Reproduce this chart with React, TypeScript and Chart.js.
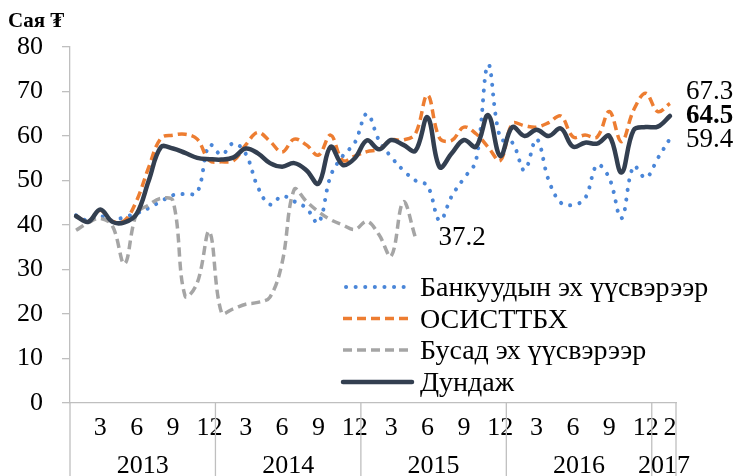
import React, { useEffect, useRef } from 'react';
import { Chart, registerables } from 'chart.js';

Chart.register(...registerables);

// ---------------- data ----------------
const YEARS = ['2013', '2014', '2015', '2016', '2017'];
const MONTHS_PER_YEAR = [12, 12, 12, 12, 2];
const MONTH_TICKS = [3, 6, 9, 12];

const SERIES_NAMES = ['Банкуудын эх үүсвэрээр', 'ОСИСТТБХ', 'Бусад эх үүсвэрээр', 'Дундаж'];
const Y_TITLE = 'Сая ₮';

const BANKS = [
  42.2, 41, 42, 41, 41.8, 42.6, 43.8, 45.3, 46.7, 47, 47.3, 58,
  55.8, 58.4, 56, 48.5, 44.6, 46.5, 45.3, 43.8, 40.5, 51, 55.5, 58.5,
  65, 59, 55.3, 52.3, 50, 48.8, 41, 46.5, 50.5, 54.5, 76, 59.5,
  58.5, 52.3, 59.3, 50, 45, 44.5, 46, 53.5, 50.5, 41.5, 53.2, 50.6,
  55, 59.4,
];
const OSISTTBKH = [
  42, 40.8, 43.3, 40.8, 41, 45.5, 53, 59.5, 60.2, 60.4, 59.3, 54.5,
  54.2, 54.5, 58, 60.8, 58.8, 56.4, 59.3, 58, 55.7, 60.2, 54.5, 55.5,
  56.5, 57, 59.1, 59.1, 60.5, 69.2, 59.5, 59, 62, 60.5, 57.5, 54.5,
  62.8, 62.3, 62, 63, 64.5, 59.8, 60.2, 59.8, 65.5, 58.7, 65.8, 69.6,
  65.5, 67.3,
];
const OTHER = [
  38.8, 40.5, 41.5, 39.8, 31.3, 42.6, 44.5, 46, 45.4, 24, 27, 38.5,
  20.3, 21.2, 22.2, 22.6, 23.8, 31.5, 48, 45.3, 43, 41.2, 40, 39,
  40.8, 37.8, 33, 45.2, 37.2,
];
const AVERAGE = [
  42, 40.7, 43.5, 40.7, 40.6, 42.5, 50, 57.5, 57.2, 56.2, 55.1, 54.8,
  54.7, 55.2, 57.2, 56.1, 53.9, 53.1, 53.9, 52.3, 49.3, 57.6, 53.5, 55,
  59, 57, 59.1, 58, 56.7, 64.2, 53, 56.1, 59.1, 57.6, 64.7, 55.5,
  62, 60, 61.4, 60, 61.7, 57.6, 58.5, 58.3, 60, 51.8, 61.3, 62,
  62.1, 64.5,
];

// ---------------- style ----------------
const FONT = '"Liberation Serif", "Times New Roman", "DejaVu Serif", serif';
const AXIS_COLOR = '#BFBFBF';
const BLUE = '#4A86D8';
const ORANGE = '#ED7D31';
const GRAY = '#A5A5A5';
const DARK = '#333F50';

const CATEGORIES: string[] = [];
YEARS.forEach((yr, k) => {
  for (let m = 1; m <= MONTHS_PER_YEAR[k]; m++) CATEGORIES.push(yr + '-' + m);
});

const STYLES = [
  { color: BLUE, width: 4, dash: [0.1, 9.5], cap: 'round' as CanvasLineCap },
  { color: ORANGE, width: 3.5, dash: [9, 5], cap: 'butt' as CanvasLineCap },
  { color: GRAY, width: 3.5, dash: [9, 5], cap: 'butt' as CanvasLineCap },
  { color: DARK, width: 4.5, dash: [] as number[], cap: 'round' as CanvasLineCap },
];

const overlayPlugin = {
  id: 'overlay',
  afterDraw(chart: any) {
    const { ctx, chartArea, scales } = chart;
    const x = scales.x;
    const y = scales.y;
    ctx.save();

    // year separators and year labels
    const band = x.getPixelForValue(1) - x.getPixelForValue(0);
    const axisY = chartArea.bottom;
    ctx.strokeStyle = AXIS_COLOR;
    ctx.lineWidth = 1.3;
    ctx.fillStyle = '#000';
    ctx.font = '26px ' + FONT;
    ctx.textAlign = 'center';
    ctx.textBaseline = 'middle';
    let start = 0;
    YEARS.forEach((yr, k) => {
      const n = MONTHS_PER_YEAR[k];
      const x0 = x.getPixelForValue(start) - band / 2;
      const x1 = x.getPixelForValue(start + n - 1) + band / 2;
      ctx.beginPath();
      ctx.moveTo(x0, axisY);
      ctx.lineTo(x0, chart.height);
      ctx.stroke();
      if (k === YEARS.length - 1) {
        ctx.beginPath();
        ctx.moveTo(x1, axisY);
        ctx.lineTo(x1, chart.height);
        ctx.stroke();
      }
      ctx.fillText(yr, (x0 + x1) / 2, 466);
      start += n;
    });

    // axis title
    ctx.font = 'bold 21px ' + FONT;
    ctx.textAlign = 'left';
    ctx.fillText(Y_TITLE, 8, 22);

    // end value labels
    const lastI = CATEGORIES.length - 1;
    const endLabels = [
      { v: OSISTTBKH[lastI], dy: -12, bold: false },
      { v: AVERAGE[lastI], dy: 0, bold: true },
      { v: BANKS[lastI], dy: 1, bold: false },
    ];
    endLabels.forEach((l) => {
      ctx.font = (l.bold ? 'bold ' : '') + '27px ' + FONT;
      ctx.fillText(l.v.toFixed(1), chartArea.right + 10, y.getPixelForValue(l.v) + l.dy);
    });
    const oi = OTHER.length - 1;
    ctx.font = '27px ' + FONT;
    ctx.fillText(OTHER[oi].toFixed(1), x.getPixelForValue(oi) + 23, y.getPixelForValue(OTHER[oi]));

    // legend
    const legendX0 = 343;
    const legendX1 = 412;
    const rows = [287, 318.5, 350, 382];
    ctx.font = '28px ' + FONT;
    SERIES_NAMES.forEach((name, k) => {
      const s = STYLES[k];
      ctx.strokeStyle = s.color;
      ctx.lineWidth = s.width;
      ctx.lineCap = s.cap;
      ctx.setLineDash(s.dash);
      ctx.beginPath();
      ctx.moveTo(legendX0 + (k === 0 ? 3 : 0), rows[k]);
      ctx.lineTo(legendX1, rows[k]);
      ctx.stroke();
      ctx.setLineDash([]);
      ctx.fillStyle = '#000';
      ctx.fillText(name, 420, rows[k] + 2);
    });
    ctx.restore();
  },
};

export default function App() {
  const ref = useRef<HTMLCanvasElement | null>(null);
  useEffect(() => {
    if (!ref.current) return;
    Chart.defaults.font.family = FONT;
    const seriesData = [BANKS, OSISTTBKH, OTHER, AVERAGE];
    const orders = [3, 2, 1, 0];
    const chart = new Chart(ref.current, {
      type: 'line',
      data: {
        labels: CATEGORIES,
        datasets: SERIES_NAMES.map((name, k) => ({
          label: name,
          data: seriesData[k],
          borderColor: STYLES[k].color,
          backgroundColor: STYLES[k].color,
          borderWidth: STYLES[k].width,
          borderDash: STYLES[k].dash,
          borderCapStyle: STYLES[k].cap,
          borderJoinStyle: 'round',
          pointRadius: 0,
          pointHoverRadius: 0,
          tension: 0.38,
          fill: false,
          order: orders[k],
        })),
      },
      options: {
        animation: false,
        responsive: true,
        maintainAspectRatio: false,
        layout: { padding: { top: 47, right: 64, left: 0, bottom: 0 } },
        plugins: { legend: { display: false }, tooltip: { enabled: false } },
        scales: {
          x: {
            type: 'category',
            offset: true,
            grid: { display: false, drawTicks: false },
            border: { display: true, color: AXIS_COLOR, width: 1.3 },
            ticks: {
              autoSkip: false,
              maxRotation: 0,
              minRotation: 0,
              padding: 10,
              color: '#000',
              font: { size: 26, family: FONT },
              callback: (_v: any, i: number) => {
                const m = (i % 12) + 1;
                if (i === CATEGORIES.length - 1) return String(m);
                return MONTH_TICKS.includes(m) ? String(m) : '';
              },
            },
            afterFit: (s: any) => { s.height = 73; },
          },
          y: {
            min: 0,
            max: 80,
            ticks: {
              stepSize: 10,
              padding: 19,
              color: '#000',
              font: { size: 26, family: FONT },
            },
            grid: { drawOnChartArea: false, drawTicks: true, tickLength: 8, color: AXIS_COLOR, lineWidth: 1.3 },
            border: { display: true, color: AXIS_COLOR, width: 1.3 },
            afterFit: (s: any) => { s.width = 70; },
          },
        },
      },
      plugins: [overlayPlugin],
    });
    return () => chart.destroy();
  }, []);
  return (
    <div style={{ position: 'absolute', left: 0, top: 0, width: 740, height: 476, background: '#fff' }}>
      <canvas ref={ref} />
    </div>
  );
}
